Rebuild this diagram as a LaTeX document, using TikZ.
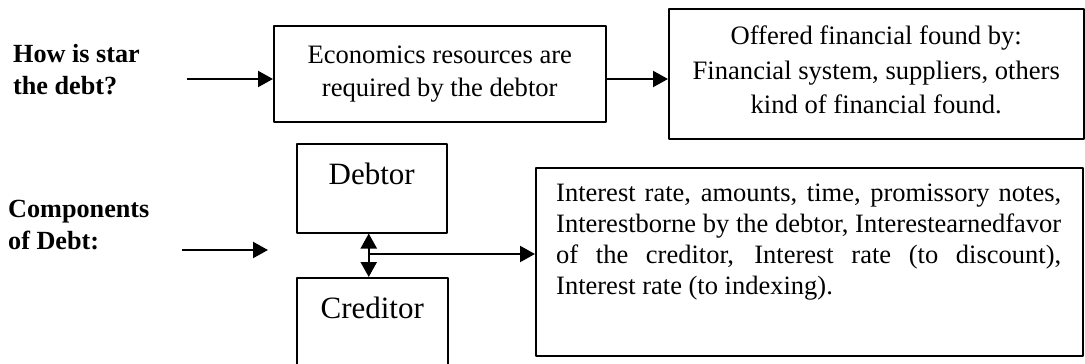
\documentclass[tikz,border=0pt]{standalone}
\usepackage{fontspec}
\setmainfont{Liberation Serif}
\usetikzlibrary{arrows.meta}
\begin{document}
\begin{tikzpicture}[x=1pt,y=-1pt,line join=round,>={Triangle[length=15pt,width=16pt]},
	box/.style={draw,line width=1.5pt,inner sep=0pt,anchor=north west,font=\fontsize{26.6}{33}\selectfont,align=center},
	lab/.style={font=\fontsize{26.2}{32}\selectfont\bfseries,align=left,inner sep=0pt,anchor=north west},
	party/.style={anchor=north,inner sep=0pt,yshift=-20pt,font=\fontsize{31}{37}\selectfont},
	arr/.style={->,line width=2.2pt}]
	\useasboundingbox (0,0) rectangle (1085,364);
	%Headings on the left
	\node[lab] (how) at (13,44) {How is star\\the debt?};
	\node[lab] (comp) at (8,200) {Components\\of Debt:};
	%First row
	\node[box,minimum width=332pt,minimum height=96pt] (econ) at (273,25) {Economics resources are\\required by the debtor};
	\node[box,minimum width=415pt,minimum height=130pt,font=\fontsize{26.6}{34.5}\selectfont] (offer) at (668,8) {Offered financial found by:\\Financial system, suppliers, others\\kind of financial found.\rule[-8pt]{0pt}{8pt}};
	\coordinate (howtail) at (187,79);
	\draw[arr] (howtail) -- (howtail -| econ.west);
	\draw[arr] (econ.east |- howtail) -- (offer.west |- howtail);
	%Second row
	\node[box,minimum width=150pt,minimum height=89pt,label={[party]north:Debtor}] (debtor) at (296,143) {};
	\node[box,minimum width=151pt,minimum height=120pt,label={[party]north:Creditor}] (creditor) at (296,277) {};
	\node[box,minimum width=547pt,minimum height=188pt] (rates) at (535,167) {};
	\node[anchor=north west,inner sep=0pt,text width=505pt,align=justify,font=\fontsize{26.5}{31}\selectfont] (ratestext) at ([shift={(21,17)}]rates.north west)
	{Interest rate, amounts, time, promissory notes,\linebreak Interestborne by the debtor, Interestearnedfavor\linebreak of the creditor, Interest rate (to discount),\linebreak Interest rate (to indexing).};
	\coordinate (comptail) at (182,250);
	\coordinate (comphead) at (268,250);
	\draw[arr] (comptail) -- (comphead);
	\draw[arr,<->] ([xshift=-3pt]debtor.south) -- ([xshift=-3pt]debtor.south |- creditor.north);
	\coordinate (split) at (370,254);
	\draw[arr] (split) -- (split -| rates.west);
\end{tikzpicture}
\end{document}
